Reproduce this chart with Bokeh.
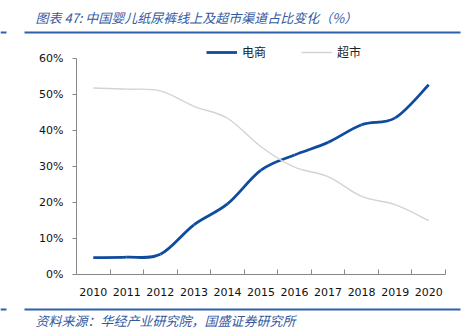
import numpy as np
from bokeh.plotting import figure
from bokeh.models import (Range1d, FixedTicker, PrintfTickFormatter, Label,
                          BoxAnnotation, Legend, LegendItem)
from bokeh.embed import file_html
from bokeh.resources import INLINE

years = [2010, 2011, 2012, 2013, 2014, 2015, 2016, 2017, 2018, 2019, 2020]
ecommerce = [4.7, 4.8, 5.6, 13.8, 19.6, 29.0, 33.2, 36.7, 41.6, 43.5, 52.7]
supermarket = [51.8, 51.5, 51.0, 46.7, 43.4, 35.5, 29.8, 27.2, 21.7, 19.4, 15.0]
y_ticks = [0, 10, 20, 30, 40, 50, 60]

title_text = "图表 47:  中国婴儿纸尿裤线上及超市渠道占比变化（%）"
source_text = "资料来源：华经产业研究院，国盛证券研究所"
series_names = ["电商", "超市"]

BLUE = "#0F4C9E"
GRAY = "#D3D3D3"
RULE = "#2E60AA"
TXT_BLUE = "#3558A0"

W, H = 474, 332
# plot area (canvas px): x 76..445, y(60%)=58 .. y(0%)=274
PL, PR, PT, PB = 76, 445, 58, 274
x0, x1 = years[0] - 0.5, years[-1] + 0.5
kx = (PR - PL) / (x1 - x0)
ky = (PB - PT) / 60.0

# frame covers the whole canvas; axes are pinned with fixed_location
p = figure(width=W, height=H, output_backend="svg", toolbar_location=None,
           x_range=Range1d(x0 - PL / kx, x1 + (W - PR) / kx),
           y_range=Range1d(-(H - PB) / ky, 60 + PT / ky),
           min_border=0, min_border_left=0, min_border_right=0,
           min_border_top=0, min_border_bottom=0)
p.outline_line_color = None
p.xgrid.visible = False
p.ygrid.visible = False

ax = p.xaxis[0]
ax.fixed_location = 0
ax.bounds = (x0, x1)
ax.ticker = FixedTicker(ticks=years, minor_ticks=[y - 0.5 for y in years] + [x1])
ax.major_tick_out = 0
ax.major_tick_in = 0
ax.minor_tick_out = 0
ax.minor_tick_in = 5
ax.minor_tick_line_color = "#888888"
ax.axis_line_color = "#888888"
ax.major_label_text_font = "DejaVu Sans"
ax.major_label_text_font_size = "11px"
ax.major_label_text_color = "#111111"
ax.major_label_standoff = 13

ay = p.yaxis[0]
ay.fixed_location = x0
ay.bounds = (0, 60)
ay.ticker = FixedTicker(ticks=y_ticks, minor_ticks=[])
ay.formatter = PrintfTickFormatter(format="%d%%")
ay.major_tick_out = 4
ay.major_tick_in = 0
ay.major_tick_line_color = "#888888"
ay.axis_line_color = "#888888"
ay.major_label_text_font = "DejaVu Sans"
ay.major_label_text_font_size = "11px"
ay.major_label_text_color = "#111111"
ay.major_label_standoff = 9


def smooth_segments(xs, ys):
    """Catmull-Rom style smoothing (as in the source's smoothed line) -> bezier segments."""
    x = np.asarray(xs, float)
    y = np.asarray(ys, float)
    xp = np.concatenate([[x[0]], x, [x[-1]]])
    yp = np.concatenate([[y[0]], y, [y[-1]]])
    n = len(x) - 1
    i = np.arange(n)
    return dict(
        x0=x[:-1], y0=y[:-1], x1=x[1:], y1=y[1:],
        cx0=x[i] + (xp[i + 2] - xp[i]) / 6.0,
        cy0=y[i] + (yp[i + 2] - yp[i]) / 6.0,
        cx1=x[i + 1] - (xp[i + 3] - xp[i + 1]) / 6.0,
        cy1=y[i + 1] - (yp[i + 3] - yp[i + 1]) / 6.0,
    )


r1 = p.bezier(source=smooth_segments(years, ecommerce), x0="x0", y0="y0", x1="x1", y1="y1",
              cx0="cx0", cy0="cy0", cx1="cx1", cy1="cy1",
              line_color=BLUE, line_width=2.8)
r2 = p.bezier(source=smooth_segments(years, supermarket), x0="x0", y0="y0", x1="x1", y1="y1",
              cx0="cx0", cy0="cy0", cx1="cx1", cy1="cy1",
              line_color=GRAY, line_width=1.4)

legend = Legend(items=[LegendItem(label=series_names[0], renderers=[r1]),
                       LegendItem(label=series_names[1], renderers=[r2])],
                orientation="horizontal", location=(206, H - 60),
                padding=0, margin=0, spacing=35,
                glyph_width=31, glyph_height=14, label_height=14,
                label_standoff=5,
                label_text_font="Noto Sans CJK SC", label_text_font_size="12px",
                label_text_color="#222222",
                background_fill_alpha=0, border_line_color=None)
p.add_layout(legend, "center")

# texts (screen units: from canvas bottom-left, since frame == canvas)
p.add_layout(Label(x=35, y=H - 17, x_units="screen", y_units="screen",
                   text=title_text, text_font="Noto Sans CJK SC",
                   text_font_style="italic", text_font_size="13px",
                   text_color=TXT_BLUE, text_baseline="middle"))
p.add_layout(Label(x=35, y=H - 320, x_units="screen", y_units="screen",
                   text=source_text, text_font="Noto Sans CJK SC",
                   text_font_style="italic", text_font_size="13px",
                   text_color=TXT_BLUE, text_baseline="middle"))

# blue rules under the title and above the source
for yy in (32, 309):
    for (l, r) in ((24, 460), (0, 6)):
        p.add_layout(BoxAnnotation(left=l, right=r, bottom=H - yy - 1, top=H - yy + 1,
                                   left_units="screen", right_units="screen",
                                   top_units="screen", bottom_units="screen",
                                   fill_color=RULE, fill_alpha=1, line_color=None))

open("out.html", "w").write(file_html(p, INLINE))
